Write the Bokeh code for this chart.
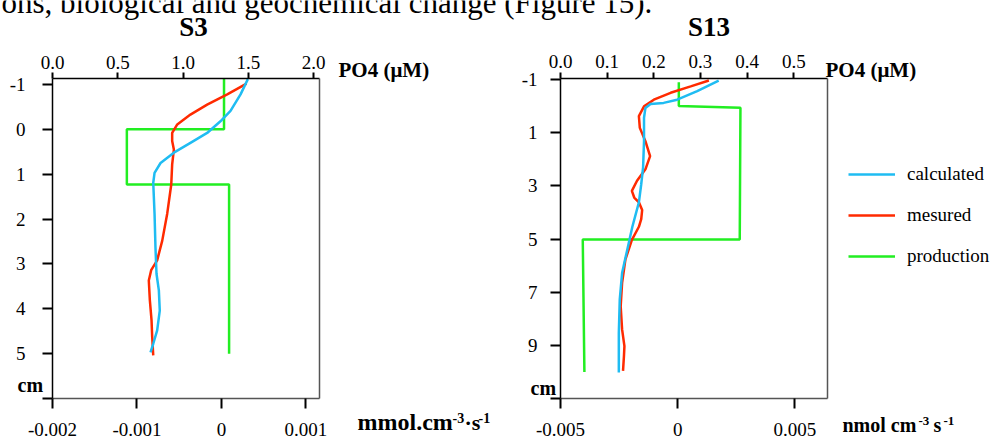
from bokeh.plotting import figure
from bokeh.models import (Range1d, LinearAxis, FixedTicker, Label, Legend, LegendItem)
from bokeh.embed import file_html
from bokeh.resources import INLINE

# ---------------- data ----------------
# S3: depth (cm), PO4 (uM)
s3_calc_depth = [-1.12, -0.78, -0.41, -0.18, 0.08, 0.30, 0.52, 0.75, 0.97, 1.19, 1.88, 2.63,
                 3.22, 3.59, 4.04, 4.48, 4.78, 4.97]
s3_calc_po4 = [1.497, 1.441, 1.364, 1.287, 1.185, 1.057, 0.930, 0.828, 0.782, 0.772, 0.782,
               0.789, 0.797, 0.815, 0.822, 0.802, 0.772, 0.751]
s3_meas_depth = [-1.02, -0.78, -0.55, -0.33, -0.11, 0.08, 0.26, 0.45, 0.78, 1.23, 1.88, 2.48,
                 2.92, 3.14, 3.37, 3.81, 4.26, 4.63, 5.04]
s3_meas_po4 = [1.487, 1.339, 1.185, 1.057, 0.956, 0.917, 0.917, 0.930, 0.917, 0.910, 0.879,
               0.841, 0.802, 0.756, 0.738, 0.746, 0.759, 0.764, 0.772]
# S3 production (mmol cm-3 s-1)
s3_prod_depth = [-1.12, 0.0, 0.0, 1.23, 1.23, 5.0]
s3_prod = [0.00003, 0.00003, -0.00112, -0.00112, 0.00009, 0.00009]

# S13
s13_calc_depth = [-0.96, -0.56, -0.24, -0.12, -0.08, 0.07, 0.44, 1.32, 2.31, 2.94, 3.62, 4.54,
                  5.41, 6.28, 7.28, 8.53, 10.02]
s13_calc_po4 = [0.339, 0.293, 0.250, 0.221, 0.193, 0.182, 0.179, 0.179, 0.177, 0.173, 0.168,
                0.154, 0.143, 0.132, 0.127, 0.125, 0.125]
s13_meas_depth = [-0.96, -0.74, -0.50, -0.24, 0.01, 0.38, 0.82, 1.32, 1.88, 2.38, 2.81, 3.19,
                  3.44, 3.62, 3.91, 4.25, 4.54, 5.03, 5.78, 6.65, 7.53, 8.40, 9.03, 9.40, 9.96]
s13_meas_po4 = [0.318, 0.279, 0.236, 0.200, 0.179, 0.168, 0.170, 0.182, 0.192, 0.182, 0.164,
                0.153, 0.158, 0.168, 0.175, 0.173, 0.168, 0.153, 0.139, 0.132, 0.129, 0.132,
                0.137, 0.136, 0.134]
# S13 production (nmol cm-3 s-1)
s13_prod_depth = [-0.9, 0.0, 0.06, 5.02, 5.02, 10.0]
s13_prod = [0.00005, 0.00005, 0.00268, 0.00265, -0.00405, -0.00398]

# tick values and labels
s3_po4_ticks = [0.0, 0.5, 1.0, 1.5, 2.0]
s3_po4_labels = ["0.0", "0.5", "1.0", "1.5", "2.0"]
s3_prod_ticks = [-0.002, -0.001, 0.0, 0.001]
s3_prod_labels = ["-0.002", "-0.001", "0", "0.001"]
s3_depth_ticks = [-1, 0, 1, 2, 3, 4, 5, 6]
s3_depth_labels = ["-1", "0", "1", "2", "3", "4", "5", ""]
s13_po4_ticks = [0.0, 0.1, 0.2, 0.3, 0.4, 0.5]
s13_po4_labels = ["0.0", "0.1", "0.2", "0.3", "0.4", "0.5"]
s13_prod_ticks = [-0.005, 0.0, 0.005]
s13_prod_labels = ["-0.005", "0", "0.005"]
s13_depth_ticks = [-1, 1, 3, 5, 7, 9, 11]
s13_depth_labels = ["-1", "1", "3", "5", "7", "9", ""]

series_names = ["calculated", "mesured", "production"]

# ---------------- style / layout ----------------
SERIF = "Liberation Serif"
C_CALC = "#1fbcf2"
C_MEAS = "#ff2a00"
C_PROD = "#22ee22"
W, H = 1000, 439


def lin(v0, c0, v1, c1):
    k = (v1 - v0) / (c1 - c0)
    return lambda c: v0 + (c - c0) * k


p = figure(width=W, height=H, output_backend="svg", toolbar_location=None, title=None,
           x_range=Range1d(0, W), y_range=Range1d(H, 0),
           x_axis_location=None, y_axis_location=None, min_border=0)
p.xgrid.visible = False
p.ygrid.visible = False
p.outline_line_color = None
p.background_fill_color = "white"
p.border_fill_color = "white"


def style(ax, ticks, labels, tick_out, standoff, line_color="black"):
    ax.ticker = FixedTicker(ticks=ticks)
    ax.major_label_overrides = dict(zip(ticks, labels))
    ax.major_tick_in = 0
    ax.major_tick_out = tick_out
    ax.minor_tick_in = 0
    ax.minor_tick_out = 0
    ax.major_tick_line_width = 2
    ax.major_tick_line_color = "black"
    ax.axis_line_width = 1.5
    ax.axis_line_color = line_color
    ax.major_label_standoff = standoff
    ax.major_label_text_font = SERIF
    ax.major_label_text_font_size = "19px"
    ax.major_label_text_color = "black"


def panel(name, L, R, T, B, fpo4, fprod, fdep, po4_t, po4_l, prod_t, prod_l, dep_t, dep_l,
          left_standoff):
    p.extra_x_ranges[name + "_po4"] = Range1d(fpo4(0), fpo4(W))
    p.extra_x_ranges[name + "_prod"] = Range1d(fprod(0), fprod(W))
    p.extra_y_ranges[name + "_dep"] = Range1d(start=fdep(H), end=fdep(0))
    x0, x1 = round(fprod(L), 9), round(fprod(R), 9)
    y0, y1 = round(fdep(T), 6), round(fdep(B), 6)
    top = LinearAxis(x_range_name=name + "_po4", y_range_name=name + "_dep",
                     fixed_location=y0, bounds=(0.0, round(fpo4(R), 6)))
    style(top, po4_t, po4_l, 6, 4)
    p.add_layout(top, "above")
    bot = LinearAxis(x_range_name=name + "_prod", y_range_name=name + "_dep",
                     fixed_location=y1, bounds=(x0, x1))
    style(bot, prod_t, prod_l, 10, 14, "#555555")
    p.add_layout(bot, "below")
    lft = LinearAxis(x_range_name=name + "_prod", y_range_name=name + "_dep",
                     fixed_location=x0, bounds=(y0, y1))
    style(lft, dep_t, dep_l, 10, left_standoff)
    p.add_layout(lft, "left")
    rgt = LinearAxis(x_range_name=name + "_prod", y_range_name=name + "_dep",
                     fixed_location=x1, bounds=(y0, y1))
    style(rgt, [], [], 0, 0, "#555555")
    rgt.major_label_text_alpha = 0
    p.add_layout(rgt, "right")


# left panel S3: frame x 52..319, y 78..398
panel("s3", 52, 319, 78, 398,
      lin(0.0, 52, 2.0, 313), lin(-0.002, 52, 0.00116, 319), lin(-1.0, 84, 6.0, 398),
      s3_po4_ticks, s3_po4_labels, s3_prod_ticks, s3_prod_labels,
      s3_depth_ticks, s3_depth_labels, 17)
# right panel S13: frame x 560..827, y 78..398
panel("s13", 560, 827, 78, 398,
      lin(0.0, 560, 0.5, 793.3), lin(-0.005, 560, 0.005, 794.3), lin(-1.0, 79, 11.0, 398),
      s13_po4_ticks, s13_po4_labels, s13_prod_ticks, s13_prod_labels,
      s13_depth_ticks, s13_depth_labels, 13)

# data lines
p.line(x=s3_prod, y=s3_prod_depth, x_range_name="s3_prod", y_range_name="s3_dep",
       line_color=C_PROD, line_width=2.5)
p.line(x=s3_meas_po4, y=s3_meas_depth, x_range_name="s3_po4", y_range_name="s3_dep",
       line_color=C_MEAS, line_width=2.5)
p.line(x=s3_calc_po4, y=s3_calc_depth, x_range_name="s3_po4", y_range_name="s3_dep",
       line_color=C_CALC, line_width=2.5)
r_prod = p.line(x=s13_prod, y=s13_prod_depth, x_range_name="s13_prod", y_range_name="s13_dep",
                line_color=C_PROD, line_width=2.5)
r_meas = p.line(x=s13_meas_po4, y=s13_meas_depth, x_range_name="s13_po4",
                y_range_name="s13_dep", line_color=C_MEAS, line_width=2.5)
r_calc = p.line(x=s13_calc_po4, y=s13_calc_depth, x_range_name="s13_po4",
                y_range_name="s13_dep", line_color=C_CALC, line_width=2.5)


def put(cx, base, text, size, bold=False, align="left"):
    # base = wanted glyph baseline; the renderer sets the anchor ~1/3 em lower
    p.add_layout(Label(x=cx, y=base - 0.33 * size, text=text, text_font=SERIF,
                       text_font_size=f"{size}px",
                       text_font_style="bold" if bold else "normal", text_color="black",
                       text_align=align, text_baseline="alphabetic"))


put(1, 12, "ons, biological and geochemical change (Figure 15).", 31)
put(193, 35, "S3", 27, bold=True, align="center")
put(708.5, 35, "S13", 27, bold=True, align="center")
put(338, 76.5, "PO4 (μM)", 21, bold=True)
put(825, 76.5, "PO4 (μM)", 21, bold=True)
put(17, 391.5, "cm", 20, bold=True)
put(530, 394, "cm", 20, bold=True)
put(357, 429, "mmol.cm", 24, bold=True)
put(452, 422.5, "-3", 14, bold=True)
put(464, 429, "·s", 22, bold=True)
put(478, 422.5, "-1", 14, bold=True)
put(842, 431, "nmol cm", 20, bold=True)
put(918, 424.5, "-3", 13, bold=True)
put(933, 431, "s", 20, bold=True)
put(943, 424.5, "-1", 13, bold=True)

legend = Legend(items=[LegendItem(label=series_names[0], renderers=[r_calc]),
                       LegendItem(label=series_names[1], renderers=[r_meas]),
                       LegendItem(label=series_names[2], renderers=[r_prod])],
                location=(848, 172), padding=0, margin=0, spacing=19,
                glyph_width=47, glyph_height=20, label_height=20, label_standoff=12,
                border_line_alpha=0, background_fill_alpha=0,
                label_text_font=SERIF, label_text_font_size="19px", label_text_color="black")
p.add_layout(legend, "center")

open("out.html", "w").write(file_html(p, INLINE))
